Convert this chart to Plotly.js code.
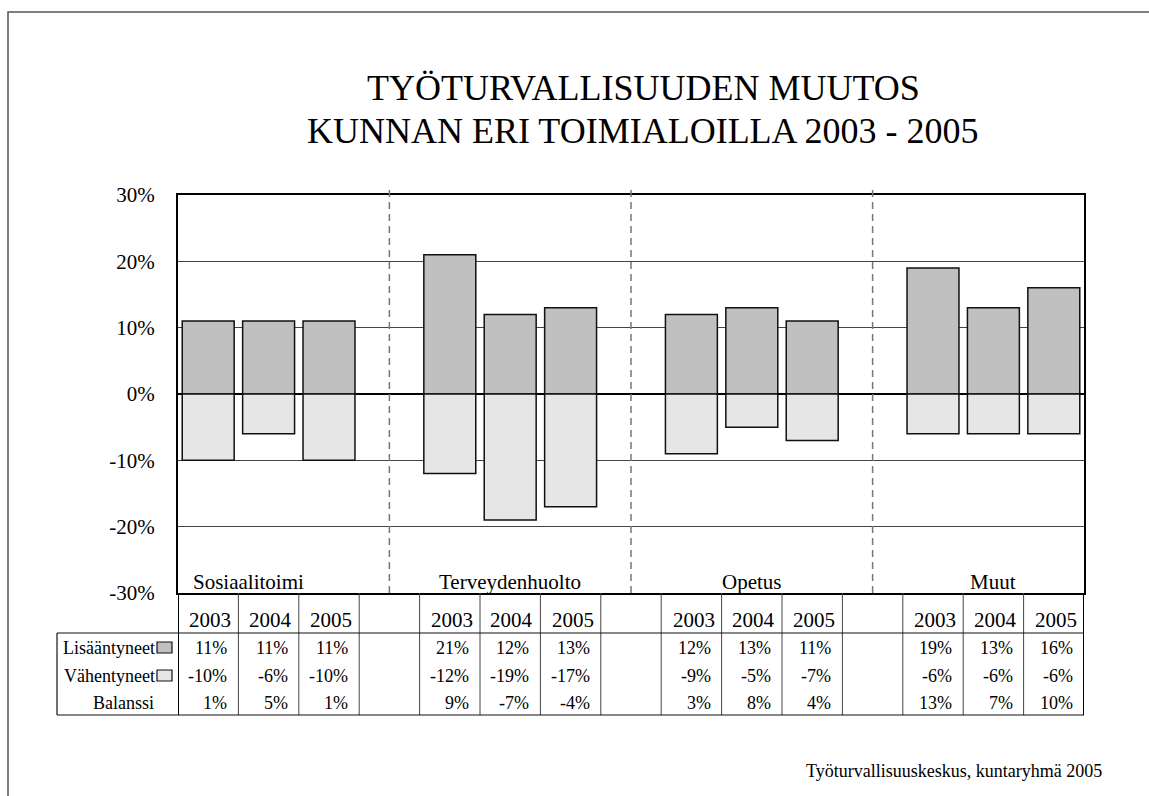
<!DOCTYPE html>
<html><head><meta charset="utf-8">
<script src="https://cdn.plot.ly/plotly-3.0.1.min.js"></script>
<style>html,body{margin:0;padding:0;background:#fff}#chart{width:1149px;height:796px}</style>
</head><body><div id="chart"></div>
<script>
const groups = ['Sosiaalitoimi', 'Terveydenhuolto', 'Opetus', 'Muut'];
const years = ['2003', '2004', '2005'];
const increased = [11, 11, 11, 21, 12, 13, 12, 13, 11, 19, 13, 16];
const decreased = [-10, -6, -10, -12, -19, -17, -9, -5, -7, -6, -6, -6];
const balance = [1, 5, 1, 9, -7, -4, 3, 8, 4, 13, 7, 10];
const rowLabels = ['Lisääntyneet', 'Vähentyneet', 'Balanssi'];
const yTicks = [-30, -20, -10, 0, 10, 20, 30];
const titleLines = ['TYÖTURVALLISUUDEN MUUTOS', 'KUNNAN ERI TOIMIALOILLA 2003 - 2005'];
const sourceText = 'Työturvallisuuskeskus, kuntaryhmä 2005';

const W = 1149, H = 796, L = 178, R = 65, T = 195, B = 203;
const pw = W - L - R, ph = H - T - B;
const px = x => (x - L) / pw;
const py = y => (H - B - y) / ph;
const FONT = 'Liberation Serif, Times New Roman, serif';
const slotsPerGroup = years.length + 1;
const nSlots = groups.length * slotsPerGroup - 1;
const xs = [];
groups.forEach((g, gi) => years.forEach((y, yi) => xs.push(gi * slotsPerGroup + yi)));
const incColor = '#c0c0c0', decColor = '#e6e6e6';

const traces = [
  {type: 'bar', name: rowLabels[0], x: xs, y: increased, marker: {color: incColor, line: {color: '#111', width: 1.5}}, hoverinfo: 'skip'},
  {type: 'bar', name: rowLabels[1], x: xs, y: decreased, marker: {color: decColor, line: {color: '#111', width: 1.5}}, hoverinfo: 'skip'}
];

const shapes = [];
const annotations = [];
// outer frame
shapes.push({type: 'rect', xref: 'paper', yref: 'paper', x0: px(8), x1: px(1250), y0: py(12), y1: py(900), line: {color: '#555', width: 1.5}, layer: 'below'});
// dashed separators
for (let gi = 0; gi < groups.length - 1; gi++) {
  const xg = gi * slotsPerGroup + years.length;
  shapes.push({type: 'line', xref: 'x', yref: 'paper', x0: xg, x1: xg, y0: py(593), y1: py(189), line: {color: '#777', width: 1.5, dash: '7px,5px'}});
}
// table verticals
for (let k = 0; k <= nSlots; k++) {
  const edge = (k === 0 || k === nSlots);
  shapes.push({type: 'line', xref: 'x', yref: 'paper', x0: k - 0.5, x1: k - 0.5, y0: py(593), y1: py(715), line: {color: edge ? '#000' : '#444', width: edge ? 2 : 1}});
}
// table horizontals
[633, 715].forEach(yy => shapes.push({type: 'line', xref: 'paper', yref: 'paper', x0: px(57), x1: px(W - R), y0: py(yy), y1: py(yy), line: {color: '#111', width: 1.2}}));
shapes.push({type: 'line', xref: 'paper', yref: 'paper', x0: px(57), x1: px(57), y0: py(633), y1: py(715), line: {color: '#111', width: 1.2}});

const rowY = [648, 676, 703];
// swatches
[incColor, decColor].forEach((c, i) => shapes.push({type: 'rect', xref: 'paper', yref: 'paper', x0: px(157), x1: px(172), y0: py(rowY[i] - 6), y1: py(rowY[i] + 5), fillcolor: c, line: {color: '#111', width: 1.2}}));

// titles
titleLines.forEach((t, i) => annotations.push({text: t, xref: 'paper', yref: 'paper', x: px(643), y: py([88, 131][i]), xanchor: 'center', yanchor: 'middle', showarrow: false, font: {family: FONT, size: 36, color: '#000'}}));
// group labels
groups.forEach((g, gi) => {
  const first = gi === 0;
  annotations.push({text: g, xref: 'x', yref: 'paper', x: first ? -0.5 : gi * slotsPerGroup + 1, xshift: first ? 13 : 0, y: py(582), xanchor: first ? 'left' : 'center', yanchor: 'middle', showarrow: false, font: {family: FONT, size: 21, color: '#000'}});
});
// year headers and values
const rows = [increased, decreased, balance];
xs.forEach((x, i) => {
  annotations.push({text: years[i % years.length], xref: 'x', yref: 'paper', x: x + 0.5, xshift: -5, y: py(620), xanchor: 'right', yanchor: 'middle', showarrow: false, font: {family: FONT, size: 21, color: '#000'}});
  rows.forEach((r, ri) => annotations.push({text: r[i] + '%', xref: 'x', yref: 'paper', x: x + 0.5, xshift: -9, y: py(rowY[ri]), xanchor: 'right', yanchor: 'middle', showarrow: false, font: {family: FONT, size: 18, color: '#000'}}));
});
// row labels
rowLabels.forEach((lab, ri) => annotations.push({text: lab, xref: 'paper', yref: 'paper', x: px(ri < 2 ? 157 : 156), y: py(rowY[ri]), xanchor: 'right', yanchor: 'middle', showarrow: false, font: {family: FONT, size: 18, color: '#000'}}));
// source
annotations.push({text: sourceText, xref: 'paper', yref: 'paper', x: px(1104), y: py(771), xanchor: 'right', yanchor: 'middle', showarrow: false, font: {family: FONT, size: 18, color: '#000'}});

const layout = {
  width: W, height: H,
  margin: {l: L, r: R, t: T, b: B, pad: 0},
  paper_bgcolor: '#fff', plot_bgcolor: '#fff',
  showlegend: false,
  barmode: 'relative', bargap: 0.14,
  font: {family: FONT, color: '#000'},
  xaxis: {range: [-0.5, nSlots - 0.5], showticklabels: false, ticks: '', showgrid: false, zeroline: false,
          showline: true, mirror: true, linecolor: '#000', linewidth: 2, fixedrange: true},
  yaxis: {range: [-30, 30], tickvals: yTicks, ticktext: yTicks.map(v => v + '%'), showgrid: true, gridcolor: '#444', gridwidth: 1,
          zeroline: true, zerolinecolor: '#000', zerolinewidth: 2, showline: true, mirror: true, linecolor: '#000', linewidth: 2,
          ticks: 'outside', ticklen: 17, tickcolor: 'rgba(0,0,0,0)', tickfont: {family: FONT, size: 21, color: '#000'}, fixedrange: true},
  shapes: shapes,
  annotations: annotations
};
Plotly.newPlot('chart', traces, layout, {displayModeBar: false, staticPlot: true});
</script>
</body></html>
